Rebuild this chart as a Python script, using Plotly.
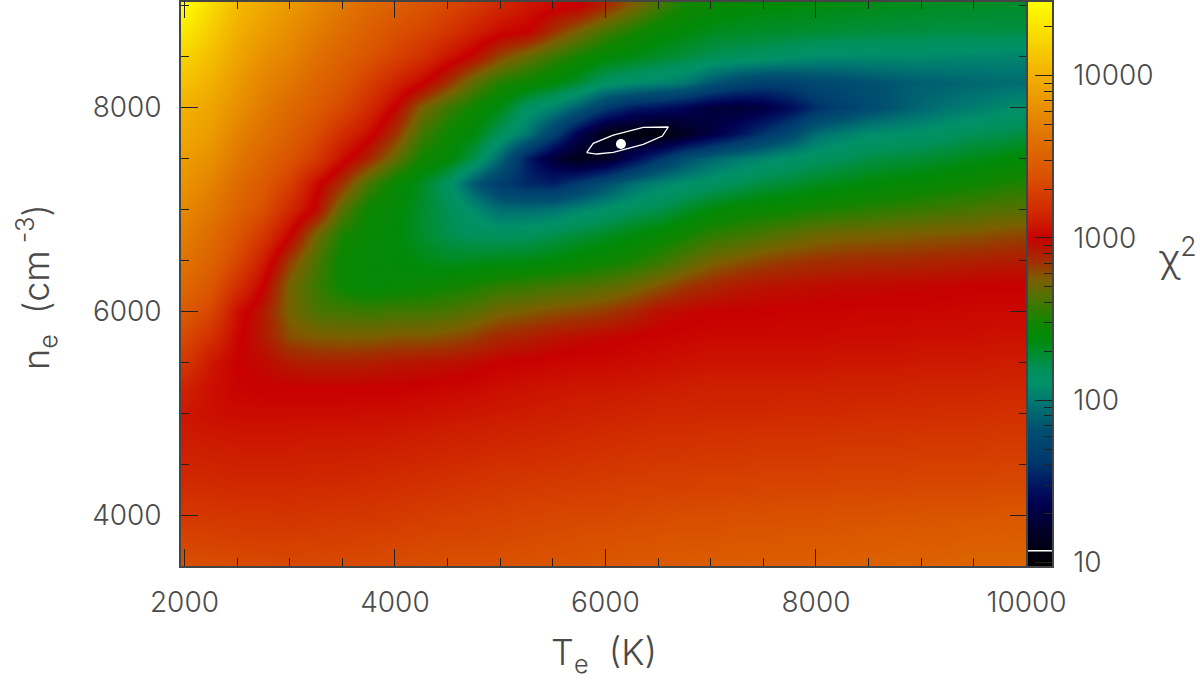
import numpy as np
import plotly.graph_objects as go

# Electron temperature (K), electron density (cm^-3)
te = list(range(2000, 10001, 250))
ne = list(range(9000, 3499, -250))

# log10(chi^2); one row per density, top to bottom
row_9000 = [4.45,4.25,4.05,3.95,3.85,3.75,3.65,3.55,3.47,3.40,3.33,3.25,3.15,3.08,3.03,3.0,2.88,2.74,2.6,2.48,2.42,2.4,2.38,2.37,2.36,2.35,2.34,2.33,2.32,2.31,2.31,2.3,2.3]
row_8750 = [4.33,4.16,3.99,3.88,3.78,3.68,3.58,3.47,3.38,3.32,3.22,3.12,3.03,3.0,2.85,2.72,2.6,2.5,2.42,2.37,2.33,2.31,2.3,2.29,2.28,2.27,2.26,2.25,2.25,2.24,2.24,2.24,2.24]
row_8500 = [4.2,4.08,3.93,3.8,3.72,3.6,3.5,3.4,3.3,3.2,3.07,2.96,2.8,2.68,2.58,2.48,2.4,2.35,2.3,2.26,2.2,2.18,2.16,2.12,2.08,2.07,2.07,2.07,2.07,2.06,2.05,2.05,2.04]
row_8250 = [4.1,4.0,3.86,3.73,3.64,3.52,3.42,3.28,3.14,3.02,2.85,2.66,2.52,2.45,2.38,2.28,2.15,2.1,2.05,2.0,1.85,1.75,1.68,1.7,1.76,1.78,1.82,1.85,1.88,1.9,1.92,1.94,1.95]
row_8000 = [4.0,3.93,3.8,3.67,3.55,3.45,3.33,3.17,2.99,2.74,2.58,2.46,2.35,2.15,2.05,1.88,1.65,1.5,1.45,1.38,1.28,1.25,1.3,1.42,1.58,1.68,1.78,1.85,1.92,1.98,2.02,2.06,2.1]
row_7750 = [3.95,3.87,3.72,3.6,3.48,3.35,3.18,3.04,2.85,2.6,2.46,2.37,2.18,2.0,1.7,1.35,1.1,1.05,1.03,1.15,1.3,1.45,1.6,1.75,1.95,2.02,2.08,2.1,2.12,2.16,2.2,2.22,2.25]
row_7500 = [3.88,3.8,3.65,3.52,3.4,3.25,3.04,2.88,2.68,2.48,2.4,2.22,1.92,1.5,1.25,1.12,1.18,1.4,1.6,1.8,1.92,2.0,2.06,2.12,2.17,2.2,2.24,2.26,2.28,2.31,2.34,2.37,2.4]
row_7250 = [3.82,3.72,3.57,3.44,3.28,3.03,2.85,2.6,2.43,2.32,2.15,1.85,1.65,1.55,1.52,1.65,1.8,1.95,2.05,2.1,2.15,2.2,2.25,2.28,2.32,2.35,2.38,2.4,2.42,2.45,2.47,2.5,2.52]
row_7000 = [3.75,3.65,3.5,3.37,3.15,2.97,2.65,2.45,2.4,2.3,2.2,2.08,1.95,1.95,1.98,2.05,2.12,2.18,2.22,2.3,2.38,2.42,2.45,2.47,2.5,2.52,2.54,2.56,2.58,2.6,2.62,2.64,2.65]
row_6750 = [3.69,3.57,3.41,3.24,3.0,2.72,2.5,2.42,2.38,2.3,2.22,2.18,2.17,2.18,2.22,2.27,2.31,2.37,2.42,2.48,2.55,2.58,2.62,2.66,2.7,2.72,2.73,2.74,2.75,2.76,2.77,2.79,2.8]
row_6500 = [3.62,3.5,3.33,3.1,2.82,2.62,2.45,2.4,2.39,2.35,2.32,2.33,2.34,2.35,2.38,2.42,2.45,2.5,2.56,2.64,2.72,2.76,2.8,2.83,2.85,2.86,2.87,2.87,2.88,2.89,2.9,2.91,2.92]
row_6250 = [3.54,3.42,3.2,3.0,2.72,2.58,2.45,2.4,2.42,2.44,2.47,2.5,2.55,2.57,2.6,2.62,2.65,2.7,2.76,2.83,2.88,2.92,2.94,2.95,2.96,2.97,2.97,2.98,2.98,2.99,3.0,3.0,3.0]
row_6000 = [3.44,3.32,3.05,2.92,2.72,2.62,2.6,2.58,2.6,2.6,2.62,2.66,2.72,2.75,2.78,2.8,2.83,2.88,2.95,2.98,3.0,3.0,3.0,3.01,3.01,3.01,3.02,3.02,3.02,3.02,3.03,3.03,3.03]
row_5750 = [3.34,3.2,3.02,2.92,2.78,2.75,2.74,2.74,2.76,2.76,2.78,2.82,2.88,2.9,2.94,2.96,2.98,3.0,3.01,3.02,3.03,3.03,3.03,3.03,3.03,3.04,3.04,3.04,3.05,3.05,3.05,3.06,3.06]
row_5500 = [3.24,3.08,3.0,2.97,2.92,2.9,2.9,2.91,2.93,2.94,2.95,2.97,3.0,3.01,3.02,3.03,3.03,3.04,3.05,3.06,3.07,3.07,3.07,3.07,3.07,3.08,3.08,3.08,3.09,3.09,3.09,3.1,3.1]
row_5250 = [3.13,3.05,3.01,3.0,3.0,3.0,3.0,3.0,3.0,3.01,3.02,3.03,3.05,3.06,3.07,3.08,3.08,3.09,3.1,3.11,3.12,3.12,3.12,3.12,3.12,3.13,3.13,3.13,3.14,3.14,3.14,3.15,3.15]
row_5000 = [3.08,3.05,3.04,3.04,3.04,3.04,3.04,3.05,3.05,3.06,3.07,3.08,3.09,3.1,3.11,3.12,3.13,3.14,3.15,3.15,3.16,3.16,3.16,3.17,3.17,3.17,3.18,3.18,3.18,3.19,3.19,3.2,3.2]
row_4750 = [3.1,3.09,3.08,3.08,3.08,3.09,3.09,3.09,3.1,3.11,3.12,3.13,3.14,3.15,3.16,3.17,3.18,3.19,3.2,3.2,3.21,3.21,3.22,3.22,3.22,3.23,3.23,3.23,3.24,3.24,3.24,3.25,3.25]
row_4500 = [3.14,3.13,3.12,3.12,3.12,3.13,3.13,3.14,3.15,3.16,3.17,3.18,3.2,3.2,3.21,3.22,3.23,3.24,3.25,3.25,3.26,3.26,3.27,3.27,3.27,3.28,3.28,3.28,3.29,3.29,3.29,3.3,3.3]
row_4250 = [3.18,3.18,3.17,3.17,3.17,3.18,3.18,3.19,3.2,3.21,3.22,3.24,3.25,3.26,3.27,3.27,3.28,3.29,3.3,3.3,3.31,3.31,3.32,3.32,3.32,3.33,3.33,3.33,3.34,3.34,3.34,3.35,3.35]
row_4000 = [3.24,3.24,3.23,3.23,3.22,3.23,3.24,3.24,3.25,3.27,3.28,3.29,3.3,3.31,3.32,3.33,3.33,3.34,3.35,3.36,3.36,3.37,3.37,3.38,3.38,3.39,3.39,3.4,3.4,3.41,3.41,3.42,3.42]
row_3750 = [3.31,3.3,3.29,3.28,3.28,3.29,3.29,3.3,3.31,3.32,3.33,3.33,3.34,3.35,3.36,3.37,3.38,3.39,3.4,3.41,3.41,3.42,3.42,3.43,3.43,3.44,3.45,3.45,3.46,3.46,3.47,3.47,3.48]
row_3500 = [3.38,3.37,3.36,3.35,3.34,3.34,3.35,3.35,3.36,3.37,3.38,3.38,3.39,3.4,3.41,3.41,3.42,3.43,3.44,3.45,3.46,3.46,3.47,3.47,3.48,3.49,3.49,3.5,3.5,3.51,3.52,3.52,3.53]

log_chi2 = [row_9000, row_8750, row_8500, row_8250, row_8000, row_7750, row_7500, row_7250,
            row_7000, row_6750, row_6500, row_6250, row_6000, row_5750, row_5500, row_5250,
            row_5000, row_4750, row_4500, row_4250, row_4000, row_3750, row_3500]

# Confidence contour and best-fit point
contour_te = [5821, 5884, 6074, 6359, 6597, 6540, 6359, 6074, 5916, 5821]
contour_ne = [7557, 7649, 7730, 7806, 7809, 7720, 7639, 7560, 7544, 7557]
best_te = [6147]
best_ne = [7642]
contour_level = 11.8

# Colour ramp: log10(chi^2) stops and their colours
cmap_levels = [0.978, 1.07, 1.2, 1.35, 1.45, 1.63, 1.82, 2.0, 2.1, 2.19, 2.37, 2.48, 2.62, 2.74, 2.85, 3.0, 3.1, 3.2, 3.4, 3.63, 4.0, 4.457]
cmap_colors = ["#000000", "#000010", "#00002a", "#00004d", "#00105e", "#003a6e", "#005070", "#007a70", "#009068",
               "#00905a", "#008a0a", "#108600", "#4a7400", "#7a6000", "#a03000", "#c80000", "#cd1c00", "#d23000", "#da5400",
               "#e07400", "#f2b000", "#ffff00"]

x_major = [2000, 4000, 6000, 8000, 10000]
y_major = [4000, 6000, 8000]
cbar_major = [10, 100, 1000, 10000]
cbar_minor = [20, 30, 40, 50, 60, 70, 80, 90, 200, 300, 400, 500, 600, 700, 800, 900,
              2000, 3000, 4000, 5000, 6000, 7000, 8000, 9000, 20000]

zmin, zmax = cmap_levels[0], cmap_levels[-1]
scale = [[(v - zmin) / (zmax - zmin), c] for v, c in zip(cmap_levels, cmap_colors)]

W, H = 1200, 682
TXT = "#4a4a4a"
FONT = "Inter"
tickfont = dict(family=FONT, size=28, color=TXT, weight=300)
titlefont = dict(family=FONT, size=36, color=TXT, weight=300)

fig = go.Figure()
fig.add_trace(go.Heatmap(x=te, y=ne, z=log_chi2, colorscale=scale, zmin=zmin, zmax=zmax,
                         zsmooth="best", showscale=False, xaxis="x", yaxis="y"))
fig.add_trace(go.Scatter(x=contour_te, y=contour_ne, mode="lines", showlegend=False,
                         line=dict(color="white", width=1.3), xaxis="x", yaxis="y"))
fig.add_trace(go.Scatter(x=best_te, y=best_ne, mode="markers", showlegend=False,
                         marker=dict(color="white", size=10), xaxis="x", yaxis="y"))

cb_levels = np.linspace(zmin, zmax, 400)
fig.add_trace(go.Heatmap(x=[0, 1], y=cb_levels, z=[[v, v] for v in cb_levels], colorscale=scale,
                         zmin=zmin, zmax=zmax, showscale=False, xaxis="x2", yaxis="y2"))
fig.add_trace(go.Scatter(x=[0, 1], y=[np.log10(contour_level)] * 2, mode="lines", showlegend=False,
                         line=dict(color="white", width=1.5), xaxis="x2", yaxis="y2"))

line = dict(showline=True, linecolor="#444444", linewidth=1.5, mirror=True)
tick = dict(ticks="inside", ticklen=17, tickcolor="#222222", tickwidth=1.2)
fig.update_layout(
    width=W, height=H, autosize=False,
    margin=dict(l=0, r=0, t=0, b=0),
    paper_bgcolor="white", plot_bgcolor="white", showlegend=False,
    xaxis=dict(domain=[181 / W, 1027 / W], range=[1967, 10005], tickvals=x_major, tickformat="d",
               mirror="allticks", showline=True, linecolor="#444444", linewidth=1.5, automargin=False,
               showgrid=False, zeroline=False, tickfont=tickfont, ticklabelstandoff=11,
               minor=dict(dtick=500, tick0=2000, ticks="inside", ticklen=8, tickcolor="#222222", tickwidth=1.2, showgrid=False),
               **tick),
    yaxis=dict(domain=[1 - 566 / H, 1 - 1.5 / H], range=[3503, 9040], tickvals=y_major, tickformat="d",
               mirror="allticks", showline=True, linecolor="#444444", linewidth=1.5, automargin=False,
               showgrid=False, zeroline=False, tickfont=tickfont, ticklabelstandoff=12,
               minor=dict(dtick=500, tick0=3500, ticks="inside", ticklen=8, tickcolor="#222222", tickwidth=1.2, showgrid=False),
               **tick),
    xaxis2=dict(domain=[1028 / W, 1052 / W], range=[0, 1], showticklabels=False, ticks="", automargin=False,
                showgrid=False, zeroline=False, anchor="y2", **line),
    yaxis2=dict(domain=[1 - 566 / H, 1 - 1.5 / H], range=[zmin, zmax], side="right", anchor="x2", automargin=False,
                tickvals=[float(np.log10(v)) for v in cbar_major], ticktext=[str(v) for v in cbar_major],
                showgrid=False, zeroline=False, tickfont=tickfont, ticklabelstandoff=14,
                minor=dict(tickvals=[float(np.log10(v)) for v in cbar_minor], ticks="inside", ticklen=8,
                           tickcolor="#222222", tickwidth=1.2, showgrid=False),
                **tick, **line),
    annotations=[
        dict(text="χ<sup>2</sup>", xref="paper", yref="paper", x=1178 / W, y=1 - 255 / H,
             xanchor="center", yanchor="middle", showarrow=False,
             font=dict(family=FONT, size=38, color=TXT, weight=300)),
        dict(text="T<sub>e</sub>&nbsp;&nbsp;(K)", xref="paper", yref="paper", x=604 / W, y=1 - 654 / H,
             xanchor="center", yanchor="middle", showarrow=False, font=titlefont),
        dict(text="n<sub>e</sub>&nbsp;&nbsp;(cm<sup> -3</sup>)", xref="paper", yref="paper", x=36 / W, y=1 - 287 / H,
             xanchor="center", yanchor="middle", textangle=-90, showarrow=False, font=titlefont),
    ],
)

fig.write_html("out.html", config=dict(displayModeBar=False), post_script="document.body.style.margin='0';")
